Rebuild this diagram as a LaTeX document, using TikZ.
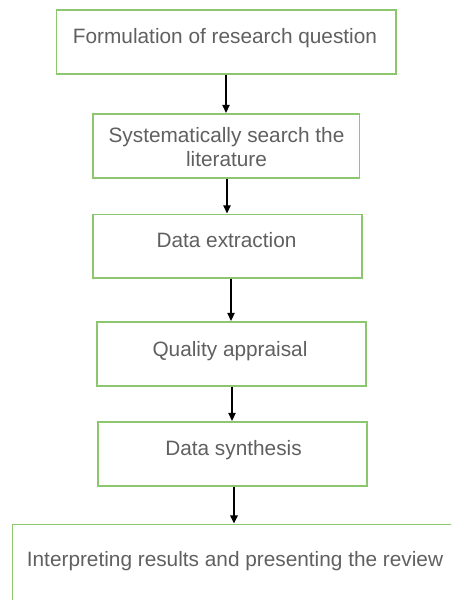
\documentclass[tikz,border=0pt]{standalone}
\usepackage{fontspec}
\setmainfont{Liberation Sans}
\usetikzlibrary{arrows.meta}
\definecolor{boxgreen}{HTML}{8CC66E}
\definecolor{txtgray}{HTML}{606060}
\begin{document}
\begin{tikzpicture}[x=1pt,y=1pt,
  stepbox/.style={draw=boxgreen,line width=1.3pt,fill=white,inner sep=0pt},
  lbl/.style={text=txtgray,font=\fontsize{20.8}{23.5}\selectfont,anchor=base,inner sep=0pt,align=center},
  arr/.style={draw=black,line width=1.3pt,-{Triangle[length=8pt,width=7.5pt]},shorten >=0.5pt}]
\useasboundingbox (0,0) rectangle (451,600);
\clip (0,0) rectangle (451,600);
\fill[white] (0,0) rectangle (451,600);
% boxes
\node[stepbox,minimum width=339.5pt,minimum height=64pt] (b1) at (226.25,558) {};
\node[stepbox,minimum width=266.5pt,minimum height=64pt] (b2) at (226.25,454) {};
\node[stepbox,minimum width=269pt,minimum height=63.5pt] (b3) at (227.5,353.75) {};
\node[stepbox,minimum width=269pt,minimum height=64pt] (b4) at (231.5,246) {};
\node[stepbox,minimum width=269pt,minimum height=64pt] (b5) at (232.5,146) {};
\node[stepbox,minimum width=470pt,minimum height=110pt,anchor=north west] (b6) at (12,76) {};
% texts
\node[lbl] (t1) at (225,556) {Formulation of research question};
\node[lbl] (t2a) at (226.5,457) {Systematically search the};
\node[lbl] (t2b) at (226.5,433.5) {literature};
\node[lbl] (t3) at (226.5,352) {Data extraction};
\node[lbl] (t4) at (230,243) {Quality appraisal};
\node[lbl] (t5) at (233.5,144) {Data synthesis};
\node[lbl] (t6) at (235,34) {Interpreting results and presenting the review};
% arrows
\draw[arr] (b1.south -| 226,0) -- (b2.north -| 226,0);
\draw[arr] (b2.south -| 227,0) -- (b3.north -| 227,0);
\draw[arr] (b3.south -| 231,0) -- (b4.north -| 231,0);
\draw[arr] (b4.south -| 232,0) -- (b5.north -| 232,0);
\draw[arr] (b5.south -| 234,0) -- (b6.north -| 234,0);
\end{tikzpicture}
\end{document}
